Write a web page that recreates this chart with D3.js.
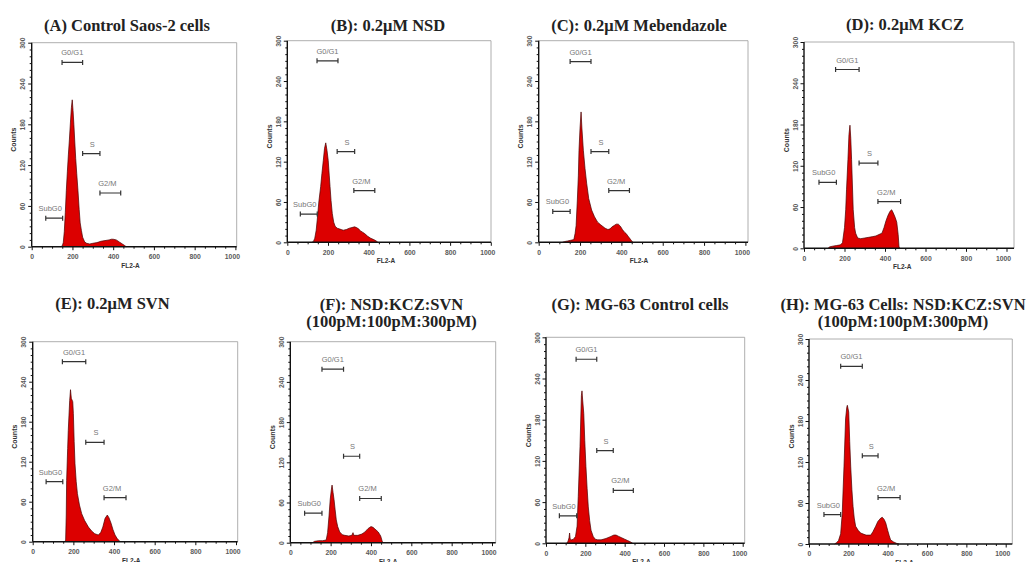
<!DOCTYPE html>
<html>
<head>
<meta charset="utf-8">
<script src="https://cdn.jsdelivr.net/npm/d3@7"></script>
<style>
body { margin: 0; background: #fff; }
</style>
</head>
<body>
<div id="chart"></div>
<script>
// panel titles (one or two lines)
const titles = [
  ["(A) Control Saos-2 cells"],
  ["(B): 0.2μM NSD"],
  ["(C): 0.2μM Mebendazole"],
  ["(D): 0.2μM KCZ"],
  ["(E): 0.2μM SVN"],
  ["(F): NSD:KCZ:SVN", "(100pM:100pM:300pM)"],
  ["(G): MG-63 Control cells"],
  ["(H): MG-63 Cells: NSD:KCZ:SVN", "(100pM:100pM:300pM)"]
];

const xTicks = [0, 200, 400, 600, 800, 1000];
const yTicks = [0, 60, 120, 180, 240, 300];

// histograms, [FL2-A, counts]
const histA = [[140,0],[150,1],[155,6],[160,22],[165,50],[170,83],[175,110],[180,135],[185,157],[190,182],[195,205],[199,216],[203,200],[207,180],[211,157],[216,130],[221,108],[227,83],[233,55],[238,35],[244,24],[250,14],[260,7],[270,5],[285,4],[300,5],[320,6],[340,8],[360,9],[380,10],[391,11],[400,11],[415,10],[430,7],[445,4],[455,2],[464,0]];
const histB = [[120,0],[128,1],[135,6],[142,18],[147,33],[155,60],[164,83],[170,102],[177,122],[183,140],[189,148],[195,137],[201,122],[206,100],[210,83],[215,62],[221,43],[228,30],[235,24],[245,21],[255,20],[265,19],[275,18],[290,19],[305,21],[318,22],[330,23],[340,22],[350,20],[360,17],[370,15],[380,13],[395,9],[410,6],[425,4],[437,2],[445,0]];
const histC = [[115,0],[124,1],[140,2],[155,3],[170,4],[176,13],[181,25],[187,63],[192,100],[195,137],[200,170],[205,194],[209,170],[216,137],[224,110],[232,88],[242,65],[256,48],[270,38],[285,30],[300,26],[321,21],[335,19],[345,20],[355,23],[365,25],[375,27],[385,27],[395,24],[405,19],[415,15],[423,13],[435,8],[445,4],[450,2],[456,0]];
const histD = [[120,0],[125,2],[140,3],[160,4],[180,5],[190,8],[200,30],[206,56],[210,85],[217,129],[222,165],[227,179],[231,160],[235,129],[243,56],[250,30],[255,22],[265,15],[280,14],[300,15],[320,16],[340,17],[355,18],[370,20],[385,22],[395,30],[405,40],[415,48],[425,54],[433,56],[440,52],[450,45],[458,38],[465,20],[469,3],[472,0]];
const histE = [[155,0],[162,2],[165,40],[167,92],[172,140],[175,167],[182,212],[186,228],[190,215],[197,210],[200,192],[204,150],[208,117],[214,90],[220,72],[230,55],[241,42],[255,32],[274,22],[290,16],[305,12],[323,10],[335,14],[345,22],[356,35],[367,40],[375,36],[385,28],[395,18],[405,10],[415,5],[430,0]];
const histF = [[110,0],[120,2],[140,3],[160,3],[178,4],[185,15],[192,40],[198,65],[204,80],[207,86],[212,75],[217,64],[222,50],[228,34],[235,24],[245,16],[258,12],[270,11],[290,10],[305,11],[311,15],[315,11],[335,11],[355,13],[370,16],[385,21],[400,24],[410,23],[425,19],[436,16],[448,10],[455,3],[458,0]];
const histG = [[105,0],[112,3],[117,8],[120,15],[123,6],[130,5],[140,6],[150,10],[158,25],[164,68],[173,141],[180,215],[183,222],[186,210],[192,189],[197,150],[203,112],[209,80],[215,53],[222,33],[229,19],[240,10],[250,6],[263,5],[280,5],[305,7],[330,10],[345,12],[356,12],[370,10],[385,8],[400,6],[415,4],[430,2],[441,0]];
const histH = [[130,0],[140,2],[150,5],[161,15],[169,45],[178,114],[186,183],[192,200],[195,203],[202,193],[207,150],[212,114],[218,80],[224,55],[230,38],[237,26],[250,20],[263,16],[290,13],[314,13],[325,18],[339,26],[350,33],[365,38],[373,39],[382,36],[390,31],[400,20],[408,12],[415,6],[430,3],[445,1],[458,0]];
const hists = [histA, histB, histC, histD, histE, histF, histG, histH];

// gates: [from, to, counts level]
const gateNames = ["SubG0", "G0/G1", "S", "G2/M"];
const gatesA = [[69,152,42],[149,250,271],[250,335,137],[335,437,79]];
const gatesB = [[64,147,42],[146,249,270],[245,331,135],[327,430,77]];
const gatesC = [[68,152,46],[152,253,269],[253,339,135],[339,439,77]];
const gatesD = [[74,160,96],[156,272,260],[272,365,124],[365,477,68]];
const gatesE = [[66,148,90],[146,261,270],[261,351,149],[351,459,66]];
const gatesF = [[71,157,44],[157,264,259],[264,344,129],[344,451,66]];
const gatesG = [[68,156,40],[153,258,268],[258,342,135],[342,444,77]];
const gatesH = [[76,161,43],[161,271,260],[271,351,129],[351,463,68]];
const gates = [gatesA, gatesB, gatesC, gatesD, gatesE, gatesF, gatesG, gatesH];

// where each pasted panel sits on the page
const layout = [
  {x0: 31.7, x1000: 235.4, right: 236.7, y0: 246.7, y300: 42.7, tx: 127, ty: 30.5},
  {x0: 287.3, x1000: 490.8, right: 491, y0: 242.3, y300: 40.7, tx: 388, ty: 30.5},
  {x0: 538.7, x1000: 745.4, right: 748, y0: 242.3, y300: 40.7, tx: 639, ty: 30.5},
  {x0: 804, x1000: 1006.5, right: 1014, y0: 248.3, y300: 42, tx: 905, ty: 30},
  {x0: 32.7, x1000: 236, right: 237.7, y0: 541.7, y300: 341.7, tx: 112.5, ty: 309},
  {x0: 290.3, x1000: 492, right: 495.7, y0: 542.7, y300: 341.7, tx: 391.5, ty: 309.5},
  {x0: 546, x1000: 742.7, right: 744.7, y0: 543.3, y300: 337.3, tx: 640, ty: 310},
  {x0: 809, x1000: 1005.7, right: 1012.3, y0: 544, y300: 339, tx: 903, ty: 309.5}
];
const labelShift = [-4, 0, 1, -3];

const svg = d3.select("#chart").append("svg")
  .attr("width", 1032)
  .attr("height", 562);

hists.forEach(function(hist, i) {
  const L = layout[i];
  const x = d3.scaleLinear().domain([0, 1000]).range([L.x0, L.x1000]);
  const y = d3.scaleLinear().domain([0, 300]).range([L.y0, L.y300]);
  const g = svg.append("g");

  // title
  titles[i].forEach(function(t, k) {
    g.append("text")
      .attr("x", L.tx)
      .attr("y", L.ty + k * 17)
      .attr("text-anchor", "middle")
      .attr("font-family", "Liberation Serif, Times New Roman, serif")
      .attr("font-weight", "bold")
      .attr("font-size", 16.5)
      .attr("fill", "#222")
      .text(t);
  });

  // frame top / right
  g.append("path")
    .attr("d", `M${L.x0},${y(300)}H${L.right}V${L.y0}`)
    .attr("fill", "none")
    .attr("stroke", "#9a9a9a")
    .attr("stroke-width", 0.8);

  // histogram
  g.append("path")
    .datum(hist)
    .attr("d", d3.area().x(d => x(d[0])).y0(y(0)).y1(d => y(d[1])))
    .attr("fill", "#dc0000");
  g.append("path")
    .datum(hist)
    .attr("d", d3.line().x(d => x(d[0])).y(d => y(d[1])))
    .attr("fill", "none")
    .attr("stroke", "#4a0000")
    .attr("stroke-width", 0.7);

  // x axis
  const gx = g.append("g")
    .attr("transform", `translate(0,${L.y0})`)
    .call(d3.axisBottom(x).tickValues(d3.range(0, 1001, 50)).tickSizeOuter(0)
      .tickFormat(d => xTicks.includes(d) ? d : ""));
  gx.select(".domain").remove();
  gx.selectAll(".tick line")
    .attr("y2", d => xTicks.includes(d) ? 3.5 : 2)
    .attr("stroke", "#111");
  gx.selectAll(".tick text")
    .attr("y", 7.5)
    .attr("dx", d => d === 1000 ? -3.5 : 0)
    .attr("font-family", "Liberation Sans, Arial, sans-serif")
    .attr("font-weight", "bold")
    .attr("font-size", 6.8)
    .attr("fill", "#5a5a5a");
  g.append("line")
    .attr("x1", L.x0).attr("x2", L.right)
    .attr("y1", L.y0).attr("y2", L.y0)
    .attr("stroke", "#111").attr("stroke-width", 1.4);

  // y axis
  const gy = g.append("g")
    .attr("transform", `translate(${L.x0},0)`)
    .call(d3.axisLeft(y).tickValues(d3.range(0, 301, 10)).tickSizeOuter(0)
      .tickFormat(d => yTicks.includes(d) ? d : ""));
  gy.select(".domain").remove();
  gy.selectAll(".tick line")
    .attr("x2", d => yTicks.includes(d) ? -3.5 : -2)
    .attr("stroke", "#111");
  gy.selectAll(".tick text")
    .attr("transform", "rotate(-90)")
    .attr("x", 0)
    .attr("y", -6.5)
    .attr("dy", 0)
    .attr("text-anchor", "middle")
    .attr("font-family", "Liberation Sans, Arial, sans-serif")
    .attr("font-weight", "bold")
    .attr("font-size", 6.8)
    .attr("fill", "#5a5a5a");
  g.append("line")
    .attr("x1", L.x0).attr("x2", L.x0)
    .attr("y1", y(300)).attr("y2", L.y0)
    .attr("stroke", "#111").attr("stroke-width", 1.4);

  // axis titles
  g.append("text")
    .attr("transform", `translate(${L.x0 - 15.5},${y(150) - 5}) rotate(-90)`)
    .attr("text-anchor", "middle")
    .attr("font-family", "Liberation Sans, Arial, sans-serif")
    .attr("font-weight", "bold")
    .attr("font-size", 7)
    .attr("fill", "#333")
    .text("Counts");
  g.append("text")
    .attr("x", x(485))
    .attr("y", L.y0 + 21)
    .attr("text-anchor", "middle")
    .attr("font-family", "Liberation Sans, Arial, sans-serif")
    .attr("font-weight", "bold")
    .attr("font-size", 6.5)
    .attr("fill", "#333")
    .text("FL2-A");

  // gate markers
  gates[i].forEach(function(gt, k) {
    const gy0 = y(gt[2]);
    g.append("path")
      .attr("d", `M${x(gt[0])},${gy0 - 2.5}V${gy0 + 2.5}M${x(gt[0])},${gy0}H${x(gt[1])}M${x(gt[1])},${gy0 - 2.5}V${gy0 + 2.5}`)
      .attr("fill", "none")
      .attr("stroke", "#333")
      .attr("stroke-width", 1.2);
    g.append("text")
      .attr("x", (x(gt[0]) + x(gt[1])) / 2 + labelShift[k])
      .attr("y", gy0 - 7)
      .attr("text-anchor", "middle")
      .attr("font-family", "Liberation Sans, Arial, sans-serif")
      .attr("font-size", 7.5)
      .attr("fill", "#777")
      .text(gateNames[k]);
  });
});
</script>
</body>
</html>
